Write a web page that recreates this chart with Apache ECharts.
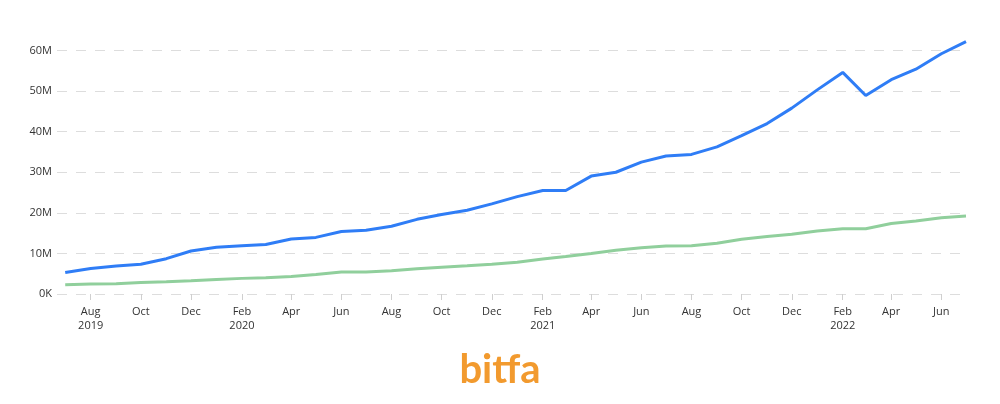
<!DOCTYPE html>
<html lang="en">
<head>
	<meta charset="UTF-8">
	<title>bitfa</title>
	<script src="https://cdn.jsdelivr.net/npm/echarts@6/dist/echarts.min.js"></script>
	<style>
		html, body { margin: 0; padding: 0; background: #fff; }
		#chart { width: 1000px; height: 404px; }
	</style>
</head>
<body>
	<div id="chart"></div>
<script>
	// monthly points, Jul 2019 - Jul 2022
	var months = [
		'2019-07','2019-08','2019-09','2019-10','2019-11','2019-12',
		'2020-01','2020-02','2020-03','2020-04','2020-05','2020-06',
		'2020-07','2020-08','2020-09','2020-10','2020-11','2020-12',
		'2021-01','2021-02','2021-03','2021-04','2021-05','2021-06',
		'2021-07','2021-08','2021-09','2021-10','2021-11','2021-12',
		'2022-01','2022-02','2022-03','2022-04','2022-05','2022-06',
		'2022-07'
	];
	// values in millions
	var blueValues = [
		5.3, 6.3, 6.9, 7.35, 8.7, 10.6,
		11.5, 11.9, 12.2, 13.55, 13.95, 15.4,
		15.7, 16.7, 18.4, 19.6, 20.65, 22.2,
		24.0, 25.5, 25.5, 29.05, 30.0, 32.5,
		34.0, 34.4, 36.25, 39.0, 42.0, 45.8,
		50.3, 54.6, 48.9, 52.8, 55.4, 59.2,
		62.2
	];
	var greenValues = [
		2.3, 2.45, 2.55, 2.85, 3.0, 3.25,
		3.6, 3.85, 4.0, 4.3, 4.8, 5.4,
		5.4, 5.7, 6.2, 6.6, 6.95, 7.35,
		7.8, 8.6, 9.25, 10.0, 10.8, 11.4,
		11.8, 11.9, 12.5, 13.5, 14.15, 14.7,
		15.55, 16.05, 16.1, 17.35, 18.0, 18.8,
		19.2
	];
	// x axis tick labels (every second month)
	var tickMonths = [
		'2019-08','2019-10','2019-12','2020-02','2020-04','2020-06',
		'2020-08','2020-10','2020-12','2021-02','2021-04','2021-06',
		'2021-08','2021-10','2021-12','2022-02','2022-04','2022-06'
	];
	var monthNames = ['Jan','Feb','Mar','Apr','May','Jun','Jul','Aug','Sep','Oct','Nov','Dec'];

	function toTime(ym) {
		var p = ym.split('-');
		return new Date(+p[0], +p[1] - 1, 1).getTime();
	}

	var tickTimes = tickMonths.map(toTime);
	var blueData = months.map(function (m, i) { return [toTime(m), blueValues[i] * 1e6]; });
	var greenData = months.map(function (m, i) { return [toTime(m), greenValues[i] * 1e6]; });

	var myChart = echarts.init(document.getElementById('chart'));
	var option = {
		backgroundColor: '#fff',
		animation: false,
		grid: { left: 57, right: 34, top: 50.5, bottom: 110 },
		xAxis: {
			type: 'value',
			scale: true,
			min: new Date(2019, 5, 21).getTime(),
			max: toTime('2022-07'),
			axisLine: { show: false },
			splitLine: { show: false },
			axisTick: {
				show: true,
				customValues: tickTimes,
				length: 6,
				lineStyle: { color: '#cfcfcf' }
			},
			axisLabel: {
				customValues: tickTimes,
				margin: 11,
				fontSize: 11,
				lineHeight: 14,
				color: '#333',
				fontFamily: 'Open Sans',
				formatter: function (value) {
					var d = new Date(value);
					var label = monthNames[d.getMonth()];
					if (d.getMonth() === 1 || value === tickTimes[0]) {
						label += '\n' + d.getFullYear();
					}
					return label;
				}
			}
		},
		yAxis: {
			type: 'value',
			min: 0,
			max: 60e6,
			interval: 10e6,
			axisLine: { show: false },
			axisTick: { show: false },
			axisLabel: {
				margin: 5,
				fontSize: 11,
				color: '#333',
				fontFamily: 'Open Sans',
				formatter: function (v) {
					return v === 0 ? '0K' : (v / 1e6) + 'M';
				}
			},
			splitLine: {
				lineStyle: { color: '#dddddd', width: 1, type: [10, 9] }
			}
		},
		series: [
			{
				type: 'line',
				data: greenData,
				showSymbol: false,
				clip: false,
				lineStyle: { color: '#90cf9c', width: 3 },
				itemStyle: { color: '#90cf9c' }
			},
			{
				type: 'line',
				data: blueData,
				showSymbol: false,
				clip: false,
				lineStyle: { color: '#2f7df6', width: 3 },
				itemStyle: { color: '#2f7df6' }
			}
		],
		graphic: [{
			type: 'text',
			left: 'center',
			top: 350,
			style: {
				text: 'bitfa',
				fill: '#f29a2e',
				font: 'bold 40px Lato'
			}
		}]
	};
	myChart.setOption(option);
</script>
</body>
</html>
